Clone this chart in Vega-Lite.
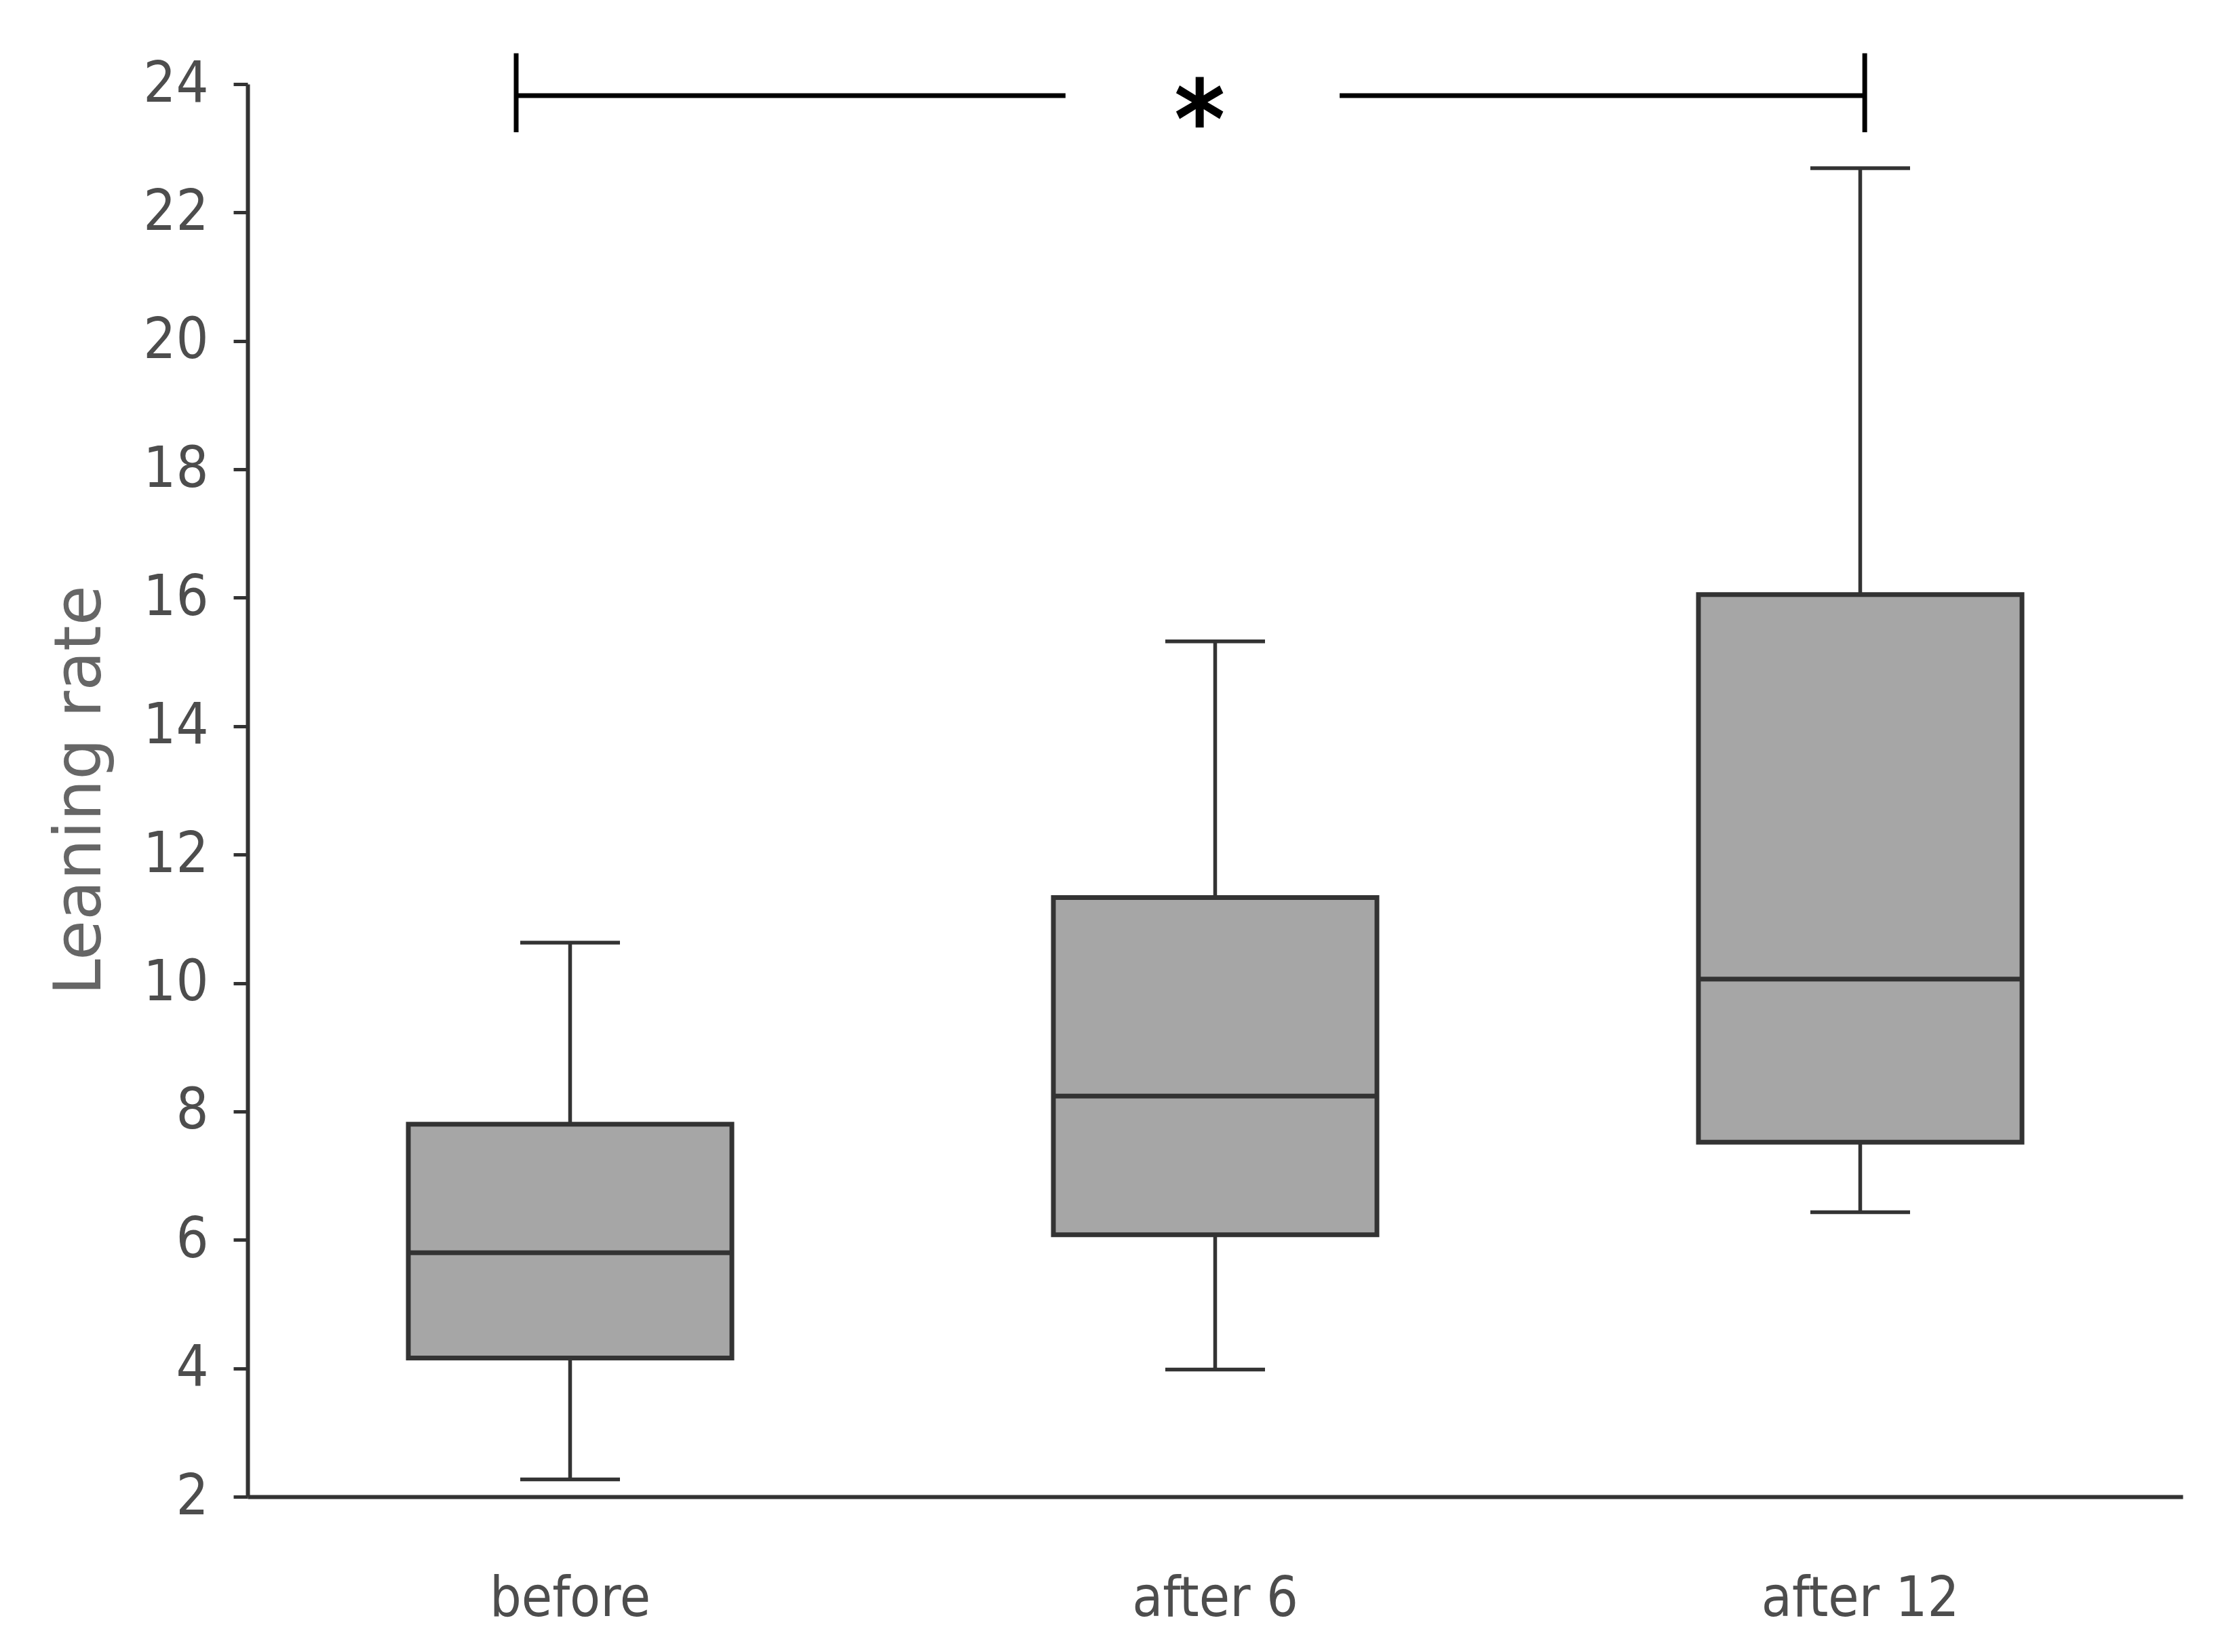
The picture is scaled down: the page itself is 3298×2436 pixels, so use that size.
{
  "$schema": "https://vega.github.io/schema/vega-lite/v6.json",
  "width": 2853,
  "height": 2083,
  "autosize": {"type": "none"},
  "padding": {"left": 365, "top": 124, "right": 80, "bottom": 229},
  "background": "white",
  "config": {
    "view": {"stroke": null},
    "axis": {
      "grid": false,
      "domainColor": "#333333",
      "domainWidth": 6,
      "tickColor": "#333333",
      "tickWidth": 5,
      "labelColor": "#4d4d4d",
      "labelLimit": 0,
      "labelFont": "DejaVu Sans Condensed, sans-serif",
      "titleFont": "DejaVu Sans, sans-serif",
      "titleFontWeight": "normal",
      "titleColor": "#666666"
    }
  },
  "datasets": {
    "boxes": [
      {"group": "before", "min": 2.27, "q1": 4.16, "median": 5.8, "q3": 7.8, "max": 10.63},
      {"group": "after 6", "min": 3.98, "q1": 6.08, "median": 8.24, "q3": 11.33, "max": 15.32},
      {"group": "after 12", "min": 6.43, "q1": 7.52, "median": 10.06, "q3": 16.05, "max": 22.69}
    ],
    "segments": [
      {"x1": 0.4164, "x2": 1.268, "y": 23.82},
      {"x1": 1.693, "x2": 2.507, "y": 23.82}
    ],
    "caps": [
      {"x": 0.4164, "y1": 23.25, "y2": 24.48},
      {"x": 2.507, "y1": 23.25, "y2": 24.48}
    ],
    "star": [
      {"x": 1.476, "y": 23.82, "label": "*"}
    ]
  },
  "layer": [
    {
      "data": {"name": "boxes"},
      "encoding": {
        "x": {
          "field": "group",
          "type": "nominal",
          "sort": ["before", "after 6", "after 12"],
          "scale": {"paddingInner": 0, "paddingOuter": 0},
          "axis": {
            "title": null,
            "ticks": false,
            "tickSize": 0,
            "labelAngle": 0,
            "labelFontSize": 82,
            "labelBaseline": "alphabetic",
            "labelPadding": 175
          }
        }
      },
      "layer": [
        {
          "mark": {"type": "rule", "stroke": "#333333", "strokeWidth": 5.5},
          "encoding": {
            "y": {
              "field": "min",
              "type": "quantitative",
              "title": "Leaning rate",
              "scale": {"domain": [2, 24], "nice": false, "zero": false},
              "axis": {
                "values": [2, 4, 6, 8, 10, 12, 14, 16, 18, 20, 22, 24],
                "format": "d",
                "tickSize": 21,
                "labelPadding": 37,
                "labelFontSize": 84,
                "titleFontSize": 96,
                "titleX": -218,
                "titleY": 1041,
                "titleAngle": -90,
                "titleAlign": "center",
                "titleBaseline": "alphabetic"
              }
            },
            "y2": {"field": "q1"}
          }
        },
        {
          "mark": {"type": "rule", "stroke": "#333333", "strokeWidth": 5.5},
          "encoding": {
            "y": {"field": "q3", "type": "quantitative", "title": "Leaning rate"},
            "y2": {"field": "max"}
          }
        },
        {
          "mark": {"type": "bar", "size": 477, "fill": "#a6a6a6", "stroke": "#333333", "strokeWidth": 7},
          "encoding": {
            "y": {"field": "q1", "type": "quantitative", "title": "Leaning rate"},
            "y2": {"field": "q3"}
          }
        },
        {
          "mark": {"type": "tick", "size": 477, "thickness": 7, "color": "#333333", "opacity": 1},
          "encoding": {
            "y": {"field": "median", "type": "quantitative", "title": "Leaning rate"}
          }
        },
        {
          "mark": {"type": "tick", "size": 147, "thickness": 5.5, "color": "#333333", "opacity": 1},
          "encoding": {
            "y": {"field": "min", "type": "quantitative", "title": "Leaning rate"}
          }
        },
        {
          "mark": {"type": "tick", "size": 147, "thickness": 5.5, "color": "#333333", "opacity": 1},
          "encoding": {
            "y": {"field": "max", "type": "quantitative", "title": "Leaning rate"}
          }
        }
      ]
    },
    {
      "layer": [
        {
          "data": {"name": "segments"},
          "mark": {"type": "rule", "stroke": "#000000", "strokeWidth": 7},
          "encoding": {
            "x": {"field": "x1", "type": "quantitative", "scale": {"domain": [0, 3], "nice": false, "zero": false}, "axis": null},
            "x2": {"field": "x2"},
            "y": {"field": "y", "type": "quantitative", "title": "Leaning rate"}
          }
        },
        {
          "data": {"name": "caps"},
          "mark": {"type": "rule", "stroke": "#000000", "strokeWidth": 7},
          "encoding": {
            "x": {"field": "x", "type": "quantitative", "axis": null},
            "y": {"field": "y1", "type": "quantitative", "title": "Leaning rate"},
            "y2": {"field": "y2"}
          }
        },
        {
          "data": {"name": "star"},
          "mark": {"type": "text", "font": "DejaVu Sans Condensed, sans-serif", "fontSize": 160, "fontWeight": "bold", "color": "#000000", "align": "center", "baseline": "alphabetic", "dy": 92},
          "encoding": {
            "x": {"field": "x", "type": "quantitative", "axis": null},
            "y": {"field": "y", "type": "quantitative", "title": "Leaning rate"},
            "text": {"field": "label"}
          }
        }
      ]
    }
  ],
  "resolve": {"scale": {"x": "independent"}}
}
